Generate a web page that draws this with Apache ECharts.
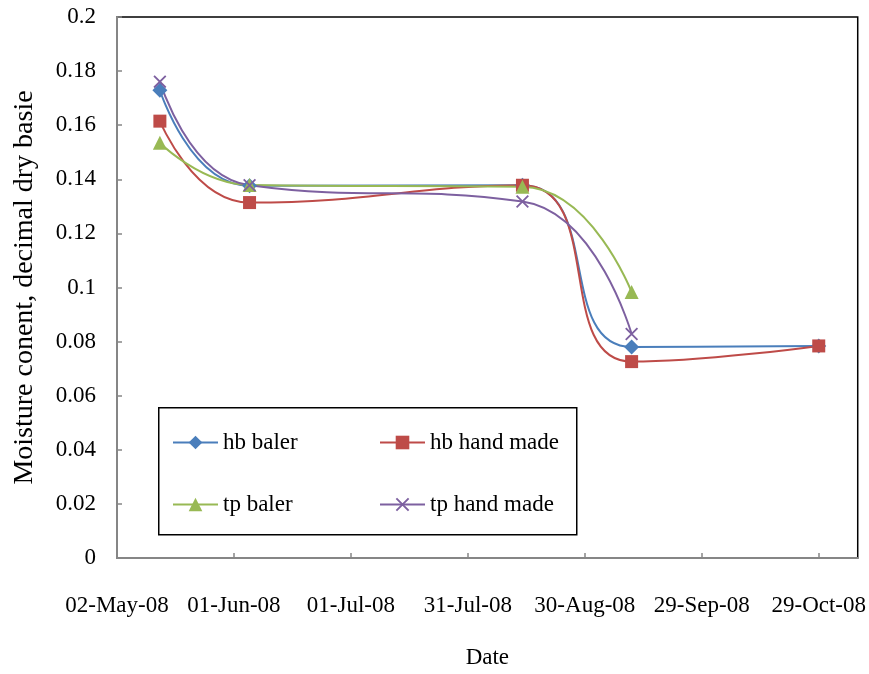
<!DOCTYPE html>
<html>
<head>
<meta charset="utf-8">
<script src="https://cdn.jsdelivr.net/npm/echarts@6/dist/echarts.min.js"></script>
<style>
  html, body { margin: 0; padding: 0; background: #fff; }
  #chart { width: 869px; height: 674px; }
</style>
</head>
<body>
<div id="chart"></div>
<script>
// Sampling dates and moisture content (decimal, dry basis)
const sampleDates = ['2008-05-13', '2008-06-05', '2008-08-14', '2008-09-11', '2008-10-29'];
const hbBaler     = [0.1729, 0.1376, 0.1378, 0.0780, 0.0784];
const hbHandMade  = [0.1615, 0.1314, 0.1378, 0.0726, 0.0784];
const tpBaler     = [0.1535, 0.1379, 0.1372, 0.0983];
const tpHandMade  = [0.1761, 0.1378, 0.1318, 0.0828];
const yTicks = [0, 0.02, 0.04, 0.06, 0.08, 0.1, 0.12, 0.14, 0.16, 0.18, 0.2];

// Date axis runs from 02-May-08 in 30-day steps
const axisStart = Date.UTC(2008, 4, 2);
const DAY = 86400000;
const axisEndDays = 190;
const MONTHS = ['Jan','Feb','Mar','Apr','May','Jun','Jul','Aug','Sep','Oct','Nov','Dec'];

function dayOffset(s) {
  const p = s.split('-').map(Number);
  return Math.round((Date.UTC(p[0], p[1] - 1, p[2]) - axisStart) / DAY);
}
function fmtDate(days) {
  const d = new Date(axisStart + days * DAY);
  const dd = String(d.getUTCDate()).padStart(2, '0');
  const yy = String(d.getUTCFullYear() % 100).padStart(2, '0');
  return dd + '-' + MONTHS[d.getUTCMonth()] + '-' + yy;
}
function pairs(vals) {
  return vals.map((v, i) => [dayOffset(sampleDates[i]), v]);
}

const FONT = '"Liberation Serif", "Times New Roman", serif';
const crossPath = 'path://M0,1L1,0L10,9L9,10Z M9,0L10,1L1,10L0,9Z';

function makeSeries(name, vals, color, symbol, size) {
  return {
    name: name,
    type: 'line',
    data: pairs(vals),
    smooth: 0.5,
    symbol: symbol,
    symbolSize: size,
    showSymbol: true,
    lineStyle: { color: color, width: 2 },
    itemStyle: { color: color },
    emphasis: { disabled: true },
    z: 3
  };
}

const legendText = { fontFamily: FONT, fontSize: 23, color: '#000' };

const chart = echarts.init(document.getElementById('chart'), null, { renderer: 'canvas' });

chart.setOption({
  animation: false,
  backgroundColor: '#ffffff',
  textStyle: { fontFamily: FONT },
  grid: {
    left: 117, right: 11, top: 17, bottom: 106,
    show: true, borderColor: '#000000', borderWidth: 1.5
  },
  xAxis: {
    type: 'value',
    min: 0,
    max: axisEndDays,
    interval: 30,
    name: 'Date',
    nameLocation: 'middle',
    nameGap: 88,
    nameTextStyle: { fontFamily: FONT, fontSize: 23, color: '#000' },
    axisLine: { lineStyle: { color: '#868686', width: 2 } },
    axisTick: { inside: true, length: 5, lineStyle: { color: '#868686', width: 1.5 } },
    axisLabel: {
      margin: 36,
      fontFamily: FONT, fontSize: 23, color: '#000',
      showMaxLabel: false,
      formatter: v => (v % 30 === 0 ? fmtDate(v) : '')
    },
    splitLine: { show: false }
  },
  yAxis: {
    type: 'value',
    min: 0,
    max: 0.2,
    interval: 0.02,
    name: 'Moisture conent, decimal dry basie',
    nameLocation: 'middle',
    nameGap: 78,
    nameRotate: 90,
    nameTextStyle: { fontFamily: FONT, fontSize: 28, color: '#000' },
    axisLine: { show: true, lineStyle: { color: '#868686', width: 2 } },
    axisTick: { show: true, inside: true, length: 5, lineStyle: { color: '#868686', width: 1.5 } },
    axisLabel: {
      margin: 21,
      fontFamily: FONT, fontSize: 23, color: '#000',
      formatter: v => {
        const t = yTicks.find(y => Math.abs(y - v) < 1e-9);
        return String(Number((t !== undefined ? t : v).toFixed(2)));
      }
    },
    splitLine: { show: false }
  },
  legend: [
    {
      data: ['hb baler', 'tp baler'],
      orient: 'vertical',
      left: 167, top: 426,
      itemWidth: 45, itemHeight: 17, itemGap: 39,
      z: 20,
      textStyle: legendText
    },
    {
      data: ['hb hand made', 'tp hand made'],
      orient: 'vertical',
      left: 374, top: 426,
      itemWidth: 45, itemHeight: 17, itemGap: 39,
      z: 20,
      textStyle: legendText
    }
  ],
  graphic: [
    {
      type: 'rect',
      left: 158, top: 407,
      shape: { width: 418, height: 127 },
      style: { fill: '#ffffff', stroke: '#000000', lineWidth: 1.5 },
      z: 10, silent: true
    }
  ],
  series: [
    makeSeries('hb baler', hbBaler, '#4A7EBB', 'diamond', 15),
    makeSeries('hb hand made', hbHandMade, '#BE4B48', 'rect', 13),
    makeSeries('tp baler', tpBaler, '#98B954', 'triangle', 14),
    makeSeries('tp hand made', tpHandMade, '#7D60A0', crossPath, 13)
  ]
});
</script>
</body>
</html>
